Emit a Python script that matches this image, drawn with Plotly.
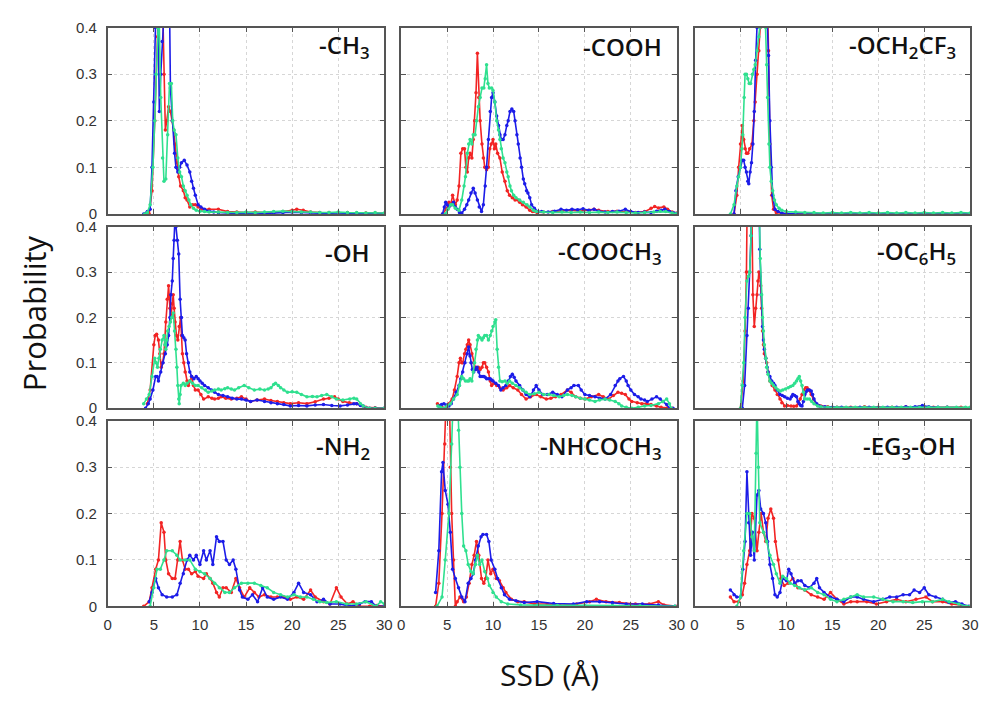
import plotly.graph_objects as go
from plotly.subplots import make_subplots

# ---------------- data (SSD in Å, probability) ----------------
# Panel 1: -CH3
ch3_red_x = [4.5, 4.8, 5.1, 5.4, 5.6, 5.9, 6.1, 6.25, 6.4, 6.6, 6.8, 7.0, 7.15, 7.3, 7.5, 7.7, 7.9, 8.2, 8.4, 8.6, 8.9, 9.2, 9.5, 9.8, 10.2, 11, 12, 13, 14, 15, 16, 17, 18, 19, 20, 20.5, 21.2, 22, 23, 24, 25, 26, 27, 28, 29, 30]
ch3_red_y = [0.0, 0.05, 0.2, 0.38, 0.5, 0.5, 0.3, 0.18, 0.2, 0.23, 0.22, 0.2, 0.18, 0.15, 0.11, 0.08, 0.06, 0.05, 0.035, 0.03, 0.015, 0.02, 0.02, 0.015, 0.01, 0.01, 0.01, 0.005, 0.004, 0.003, 0.004, 0.003, 0.004, 0.005, 0.008, 0.01, 0.008, 0.004, 0.003, 0.003, 0.002, 0.003, 0.002, 0.002, 0.002, 0.001]
ch3_blue_x = [3.9, 4.3, 4.6, 4.8, 5.0, 5.15, 5.3, 5.45, 5.6, 5.75, 5.9, 6.1, 6.3, 6.5, 6.7, 6.8, 7.0, 7.25, 7.4, 7.6, 7.8, 8.0, 8.3, 8.6, 8.9, 9.1, 9.3, 9.5, 9.8, 10.1, 10.5, 11, 11.5, 12, 13, 14, 15, 16, 17, 18, 19, 20, 21, 22, 23, 24, 25, 26, 27, 28, 29, 30]
ch3_blue_y = [0.0, 0.005, 0.01, 0.1, 0.24, 0.4, 0.5, 0.45, 0.22, 0.3, 0.37, 0.45, 0.5, 0.5, 0.45, 0.27, 0.2, 0.13, 0.1, 0.09, 0.1, 0.11, 0.115, 0.105, 0.09, 0.07, 0.055, 0.04, 0.02, 0.015, 0.01, 0.006, 0.004, 0.003, 0.002, 0.001, 0.002, 0.0, 0.001, 0.002, 0.003, 0.004, 0.003, 0.002, 0.002, 0.001, 0.0, 0.001, 0.001, 0.0, 0.001, 0.001]
ch3_green_x = [4.0, 4.3, 4.6, 4.9, 5.1, 5.25, 5.4, 5.55, 5.75, 5.95, 6.1, 6.3, 6.5, 6.7, 6.9, 7.05, 7.2, 7.4, 7.6, 7.8, 8.0, 8.2, 8.4, 8.6, 8.8, 9.0, 9.3, 9.6, 10, 10.5, 11, 12, 13, 14, 15, 16, 17, 18, 19, 20, 21, 22, 23, 24, 25, 26, 27, 28, 29, 30]
ch3_green_y = [0.0, 0.003, 0.02, 0.1, 0.2, 0.3, 0.4, 0.45, 0.25, 0.12, 0.07, 0.075, 0.17, 0.28, 0.28, 0.2, 0.18, 0.17, 0.12, 0.09, 0.08, 0.06, 0.05, 0.04, 0.03, 0.02, 0.012, 0.008, 0.006, 0.005, 0.004, 0.004, 0.003, 0.003, 0.004, 0.003, 0.004, 0.005, 0.006, 0.005, 0.004, 0.004, 0.003, 0.003, 0.004, 0.003, 0.003, 0.002, 0.003, 0.002]

# Panel 2: -COOH
cooh_red_x = [4.5, 4.9, 5.2, 5.4, 5.6, 5.9, 6.1, 6.3, 6.5, 6.7, 6.9, 7.05, 7.2, 7.35, 7.5, 7.7, 7.85, 8.0, 8.15, 8.3, 8.45, 8.6, 8.8, 8.95, 9.1, 9.3, 9.5, 9.65, 9.8, 10.0, 10.15, 10.3, 10.5, 10.75, 11.0, 11.3, 11.55, 11.8, 12.1, 12.4, 12.7, 12.9, 13.2, 13.6, 14.0, 14.3, 14.8, 15.5, 16.5, 17.5, 18.5, 19.5, 20.5, 21.0, 21.5, 22.5, 23.5, 24.5, 25.5, 26.5, 27.2, 27.6, 28.0, 28.6, 29.0, 29.5, 30]
cooh_red_y = [0.0, 0.01, 0.025, 0.02, 0.04, 0.02, 0.03, 0.06, 0.13, 0.14, 0.14, 0.1, 0.09, 0.12, 0.13, 0.12, 0.16, 0.2, 0.26, 0.345, 0.25, 0.2, 0.15, 0.12, 0.1, 0.095, 0.1, 0.14, 0.15, 0.16, 0.14, 0.15, 0.13, 0.12, 0.09, 0.07, 0.05, 0.04, 0.035, 0.03, 0.03, 0.025, 0.02, 0.015, 0.008, 0.005, 0.003, 0.004, 0.005, 0.006, 0.008, 0.006, 0.008, 0.01, 0.008, 0.005, 0.006, 0.004, 0.003, 0.005, 0.012, 0.016, 0.013, 0.015, 0.01, 0.004, 0.002]
cooh_blue_x = [4.5, 4.7, 4.85, 5.0, 5.2, 5.45, 5.7, 5.9, 6.1, 6.35, 6.6, 6.9, 7.15, 7.35, 7.6, 7.85, 8.05, 8.3, 8.5, 8.75, 8.95, 9.15, 9.3, 9.5, 9.7, 9.85, 10.0, 10.2, 10.4, 10.6, 10.75, 10.9, 11.1, 11.3, 11.5, 11.65, 11.85, 12.05, 12.25, 12.4, 12.6, 12.75, 12.95, 13.1, 13.3, 13.45, 13.65, 13.8, 14.0, 14.2, 14.5, 14.9, 15.3, 16, 16.7, 17.4, 18, 18.6, 19.2, 19.8, 20.4, 21, 21.5, 22.2, 23, 23.7, 24.4, 25, 25.8, 26.5, 27.2, 27.8, 28.3, 28.7, 29.2, 29.7, 30]
cooh_blue_y = [0.0, 0.015, 0.025, 0.02, 0.015, 0.02, 0.025, 0.015, 0.01, 0.003, 0.002, 0.01, 0.02, 0.03, 0.045, 0.055, 0.045, 0.03, 0.015, 0.005, 0.02, 0.06, 0.1, 0.16, 0.22, 0.25, 0.26, 0.24, 0.21, 0.19, 0.17, 0.16, 0.16, 0.17, 0.19, 0.2, 0.22, 0.225, 0.22, 0.2, 0.17, 0.15, 0.12, 0.1, 0.075, 0.065, 0.05, 0.045, 0.035, 0.02, 0.012, 0.005, 0.005, 0.004, 0.006, 0.01, 0.008, 0.01, 0.009, 0.011, 0.008, 0.01, 0.006, 0.004, 0.005, 0.006, 0.01, 0.005, 0.003, 0.004, 0.003, 0.006, 0.008, 0.01, 0.005, 0.002, 0.001]
cooh_green_x = [4.8, 5.1, 5.4, 5.6, 5.9, 6.3, 6.6, 6.85, 7.0, 7.2, 7.35, 7.5, 7.7, 7.85, 8.05, 8.2, 8.4, 8.6, 8.8, 9.0, 9.15, 9.3, 9.45, 9.6, 9.85, 10.0, 10.2, 10.4, 10.6, 10.75, 10.9, 11.1, 11.3, 11.5, 11.65, 11.85, 12.0, 12.25, 12.5, 12.9, 13.3, 13.7, 14.0, 14.4, 14.7, 15.5, 16.5, 17.5, 18.5, 19.5, 20.5, 21.5, 22.5, 23.5, 24.5, 25.5, 26.5, 27.5, 28.2, 28.8, 29.5, 30]
cooh_green_y = [0.0, 0.01, 0.02, 0.02, 0.012, 0.008, 0.03, 0.06, 0.08, 0.13, 0.15, 0.16, 0.15, 0.17, 0.17, 0.2, 0.23, 0.25, 0.27, 0.27, 0.29, 0.32, 0.28, 0.27, 0.27, 0.265, 0.24, 0.2, 0.18, 0.16, 0.14, 0.12, 0.11, 0.09, 0.08, 0.06, 0.05, 0.04, 0.035, 0.03, 0.025, 0.02, 0.015, 0.008, 0.005, 0.004, 0.003, 0.004, 0.003, 0.004, 0.003, 0.004, 0.003, 0.004, 0.003, 0.002, 0.003, 0.004, 0.006, 0.005, 0.002, 0.001]

# Panel 3: -OCH2CF3
och2cf3_red_x = [4.3, 4.6, 4.8, 5.0, 5.2, 5.35, 5.5, 5.65, 5.8, 6.0, 6.25, 6.45, 6.6, 6.8, 7.0, 7.15, 7.3, 7.6, 7.9, 8.05, 8.2, 8.4, 8.6, 8.9, 9.5, 10, 12, 15, 20, 25, 30]
och2cf3_red_y = [0.0, 0.04, 0.1, 0.15, 0.19, 0.16, 0.14, 0.13, 0.13, 0.14, 0.15, 0.2, 0.24, 0.3, 0.35, 0.4, 0.5, 0.5, 0.5, 0.35, 0.15, 0.04, 0.01, 0.003, 0.001, 0.0, 0.0, 0.0, 0.0, 0.0, 0.0]
och2cf3_blue_x = [4.3, 4.5, 4.75, 5.0, 5.2, 5.35, 5.5, 5.65, 5.8, 5.9, 6.05, 6.2, 6.35, 6.5, 6.65, 6.8, 7.0, 7.4, 7.75, 7.9, 8.05, 8.2, 8.35, 8.5, 8.75, 9.1, 9.5, 10, 11, 15, 20, 25, 30]
och2cf3_blue_y = [0.0, 0.05, 0.08, 0.1, 0.115, 0.115, 0.1, 0.09, 0.07, 0.065, 0.09, 0.11, 0.15, 0.22, 0.33, 0.4, 0.5, 0.5, 0.5, 0.42, 0.34, 0.2, 0.1, 0.04, 0.01, 0.005, 0.002, 0.001, 0.0, 0.0, 0.0, 0.0, 0.0]
och2cf3_green_x = [3.9, 4.3, 4.6, 4.8, 5.0, 5.15, 5.25, 5.4, 5.5, 5.65, 5.8, 5.95, 6.1, 6.3, 6.45, 6.6, 6.8, 7.0, 7.1, 7.3, 7.5, 7.65, 7.75, 7.85, 7.95, 8.1, 8.2, 8.35, 8.5, 8.7, 8.9, 9.2, 9.5, 10, 11, 12, 13, 14, 15, 16, 17, 18, 19, 20, 21, 22, 23, 24, 25, 26, 27, 28, 29, 30]
och2cf3_green_y = [0.0, 0.02, 0.06, 0.08, 0.1, 0.14, 0.17, 0.25, 0.3, 0.3, 0.29, 0.28, 0.28, 0.3, 0.31, 0.32, 0.35, 0.38, 0.4, 0.5, 0.5, 0.45, 0.4, 0.32, 0.25, 0.15, 0.1, 0.07, 0.05, 0.03, 0.02, 0.012, 0.008, 0.005, 0.004, 0.003, 0.003, 0.002, 0.003, 0.002, 0.003, 0.002, 0.003, 0.002, 0.003, 0.002, 0.003, 0.002, 0.003, 0.002, 0.003, 0.002, 0.003, 0.002]

# Panel 4: -OH
oh_red_x = [4.3, 4.6, 5.0, 5.15, 5.3, 5.5, 5.65, 5.8, 5.95, 6.1, 6.3, 6.45, 6.6, 6.75, 6.85, 7.0, 7.1, 7.2, 7.3, 7.45, 7.6, 7.75, 7.9, 8.0, 8.1, 8.25, 8.4, 8.6, 8.75, 8.9, 9.1, 9.3, 9.5, 9.8, 10.1, 10.4, 10.9, 11.3, 11.6, 12.0, 12.3, 12.8, 13.4, 14.0, 14.5, 15.0, 15.5, 16.2, 17.0, 17.7, 18.4, 19.1, 19.8, 20.7, 21.6, 22.5, 23.4, 24.0, 24.6, 25.0, 25.5, 26.2, 27.0, 27.5, 28.0, 29, 30]
oh_red_y = [0.01, 0.04, 0.14, 0.16, 0.163, 0.15, 0.12, 0.09, 0.1, 0.12, 0.19, 0.24, 0.27, 0.22, 0.2, 0.23, 0.25, 0.22, 0.19, 0.16, 0.15, 0.18, 0.2, 0.16, 0.12, 0.1, 0.08, 0.06, 0.05, 0.06, 0.07, 0.05, 0.04, 0.04, 0.03, 0.02, 0.025, 0.022, 0.02, 0.022, 0.025, 0.022, 0.02, 0.022, 0.025, 0.02, 0.015, 0.018, 0.02, 0.017, 0.015, 0.012, 0.01, 0.012, 0.01, 0.014, 0.02, 0.022, 0.025, 0.02, 0.015, 0.012, 0.01, 0.006, 0.002, 0.001, 0.0]
oh_blue_x = [4.1, 4.4, 4.6, 4.9, 5.2, 5.35, 5.5, 5.75, 6.0, 6.25, 6.45, 6.6, 6.75, 6.85, 7.0, 7.1, 7.2, 7.3, 7.4, 7.55, 7.7, 7.85, 8.0, 8.1, 8.25, 8.4, 8.55, 8.75, 8.9, 9.1, 9.35, 9.6, 9.8, 10.0, 10.25, 10.5, 10.9, 11.25, 11.6, 12.0, 12.5, 13.0, 13.5, 14.0, 14.5, 15.0, 15.5, 16.2, 17.0, 17.7, 18.4, 19.1, 19.8, 20.7, 21.6, 22.5, 23.4, 24.3, 25.2, 26.0, 26.7, 27.0, 27.4, 27.7, 28.4, 29, 30]
oh_blue_y = [0.0, 0.01, 0.02, 0.04, 0.07, 0.07, 0.06, 0.08, 0.1, 0.12, 0.14, 0.16, 0.2, 0.25, 0.28, 0.33, 0.37, 0.42, 0.4, 0.37, 0.34, 0.24, 0.2, 0.16, 0.155, 0.15, 0.12, 0.1, 0.08, 0.07, 0.065, 0.07, 0.065, 0.06, 0.055, 0.05, 0.045, 0.04, 0.035, 0.03, 0.028, 0.025, 0.022, 0.02, 0.02, 0.018, 0.015, 0.018, 0.015, 0.012, 0.01, 0.008, 0.005, 0.006, 0.005, 0.007, 0.008, 0.006, 0.005, 0.007, 0.01, 0.01, 0.006, 0.005, 0.0, 0.0, 0.0]
oh_green_x = [3.9, 4.2, 4.5, 4.8, 5.1, 5.25, 5.4, 5.55, 5.7, 5.9, 6.1, 6.2, 6.3, 6.4, 6.5, 6.65, 6.8, 6.95, 7.1, 7.25, 7.4, 7.5, 7.6, 7.7, 7.75, 7.85, 7.95, 8.2, 8.4, 8.6, 8.9, 9.2, 9.5, 9.8, 10.2, 10.6, 10.9, 11.3, 11.6, 12.0, 12.3, 12.7, 13.0, 13.4, 13.75, 14.2, 14.8, 15.3, 15.9, 16.5, 17.0, 17.4, 17.7, 18.0, 18.2, 18.5, 18.75, 19.1, 19.5, 20.0, 20.5, 21.0, 21.6, 22.2, 22.7, 23.2, 23.75, 24.3, 24.8, 25.5, 26.25, 26.7, 27.0, 27.4, 27.7, 28.4, 29, 30]
oh_green_y = [0.01, 0.02, 0.03, 0.07, 0.11, 0.1, 0.09, 0.11, 0.13, 0.15, 0.16, 0.14, 0.13, 0.15, 0.17, 0.18, 0.19, 0.2, 0.21, 0.17, 0.13, 0.09, 0.05, 0.02, 0.01, 0.03, 0.05, 0.055, 0.05, 0.055, 0.06, 0.055, 0.05, 0.05, 0.045, 0.04, 0.035, 0.038, 0.04, 0.042, 0.04, 0.043, 0.045, 0.042, 0.04, 0.045, 0.05, 0.045, 0.04, 0.042, 0.04, 0.042, 0.045, 0.052, 0.055, 0.05, 0.045, 0.04, 0.035, 0.036, 0.035, 0.03, 0.025, 0.026, 0.025, 0.028, 0.03, 0.025, 0.02, 0.018, 0.02, 0.022, 0.02, 0.01, 0.005, 0.0, 0.0, 0.0]

# Panel 5: -COOCH3
cooch3_red_x = [3.95, 4.3, 4.8, 5.2, 5.55, 5.8, 6.1, 6.3, 6.45, 6.6, 6.7, 6.9, 7.05, 7.2, 7.35, 7.5, 7.7, 7.9, 8.05, 8.25, 8.4, 8.6, 8.8, 8.95, 9.1, 9.3, 9.5, 9.7, 9.85, 10.1, 10.4, 10.75, 11.1, 11.5, 11.8, 12.2, 12.7, 13.1, 13.6, 14.1, 14.7, 15.2, 15.8, 16.3, 16.8, 17.4, 18.1, 18.5, 19.0, 19.5, 20.0, 20.7, 21.5, 22.0, 22.6, 23.1, 23.6, 24.0, 24.4, 24.8, 25.1, 25.7, 26.2, 26.7, 27.2, 27.8, 28.3, 29, 29.5]
cooch3_red_y = [0.01, 0.005, 0.0, 0.01, 0.02, 0.04, 0.07, 0.1, 0.11, 0.1, 0.1, 0.12, 0.13, 0.14, 0.15, 0.14, 0.12, 0.1, 0.09, 0.085, 0.09, 0.085, 0.09, 0.1, 0.1, 0.09, 0.08, 0.06, 0.05, 0.055, 0.05, 0.045, 0.04, 0.045, 0.05, 0.045, 0.04, 0.03, 0.02, 0.025, 0.03, 0.025, 0.02, 0.022, 0.025, 0.03, 0.04, 0.035, 0.025, 0.022, 0.02, 0.025, 0.03, 0.025, 0.02, 0.028, 0.035, 0.033, 0.03, 0.02, 0.015, 0.012, 0.01, 0.01, 0.008, 0.005, 0.002, 0.001, 0.0]
cooch3_blue_x = [4.1, 4.4, 4.65, 4.9, 5.2, 5.45, 5.7, 6.0, 6.3, 6.5, 6.7, 6.95, 7.2, 7.35, 7.5, 7.6, 7.75, 7.9, 8.1, 8.25, 8.45, 8.6, 8.8, 9.0, 9.15, 9.3, 9.5, 9.7, 9.85, 10.0, 10.3, 10.6, 10.85, 11.1, 11.4, 11.65, 11.9, 12.1, 12.3, 12.5, 12.9, 13.25, 13.6, 14.0, 14.4, 14.7, 15.0, 15.4, 15.9, 16.5, 17.0, 17.5, 18.1, 18.5, 18.8, 19.3, 19.6, 20.0, 20.5, 21.1, 21.6, 22.2, 22.8, 23.3, 23.6, 23.8, 24.2, 24.5, 24.7, 25.0, 25.4, 25.8, 26.1, 26.5, 26.8, 27.3, 27.8, 28.2, 28.5, 28.9, 29.2, 29.6]
cooch3_blue_y = [0.005, 0.008, 0.01, 0.007, 0.005, 0.01, 0.02, 0.035, 0.05, 0.065, 0.08, 0.1, 0.12, 0.135, 0.115, 0.1, 0.085, 0.08, 0.085, 0.09, 0.08, 0.07, 0.07, 0.07, 0.068, 0.065, 0.065, 0.065, 0.062, 0.06, 0.055, 0.05, 0.04, 0.045, 0.05, 0.06, 0.07, 0.075, 0.068, 0.06, 0.05, 0.04, 0.03, 0.025, 0.04, 0.05, 0.04, 0.03, 0.03, 0.035, 0.03, 0.025, 0.04, 0.045, 0.05, 0.05, 0.04, 0.03, 0.028, 0.025, 0.022, 0.02, 0.03, 0.05, 0.06, 0.065, 0.07, 0.06, 0.05, 0.04, 0.03, 0.025, 0.02, 0.018, 0.015, 0.02, 0.025, 0.02, 0.015, 0.008, 0.0, 0.0]
cooch3_green_x = [4.0, 4.3, 4.65, 5.0, 5.35, 5.7, 6.1, 6.35, 6.6, 6.8, 7.0, 7.2, 7.35, 7.5, 7.7, 7.85, 8.0, 8.15, 8.3, 8.4, 8.6, 8.8, 8.95, 9.1, 9.3, 9.5, 9.7, 9.85, 10.0, 10.2, 10.3, 10.45, 10.6, 10.75, 11.0, 11.3, 11.55, 11.8, 12.1, 12.5, 12.9, 13.25, 13.6, 14.0, 14.5, 15.0, 15.5, 16.1, 16.6, 17.2, 17.7, 18.1, 18.6, 19.0, 19.5, 20.0, 20.5, 21.1, 21.6, 22.2, 22.7, 23.3, 23.7, 24.0, 24.5, 25.1, 25.8, 26.5, 27.2, 28.0, 28.5, 28.9, 29.2, 29.4]
cooch3_green_y = [0.005, 0.002, 0.0, 0.005, 0.01, 0.02, 0.03, 0.05, 0.07, 0.065, 0.06, 0.06, 0.06, 0.065, 0.06, 0.08, 0.1, 0.13, 0.15, 0.16, 0.155, 0.15, 0.155, 0.16, 0.16, 0.15, 0.16, 0.17, 0.18, 0.19, 0.195, 0.13, 0.09, 0.06, 0.058, 0.06, 0.055, 0.06, 0.055, 0.05, 0.045, 0.04, 0.035, 0.03, 0.032, 0.035, 0.03, 0.03, 0.028, 0.025, 0.028, 0.03, 0.028, 0.025, 0.022, 0.02, 0.018, 0.015, 0.018, 0.02, 0.018, 0.015, 0.01, 0.005, 0.002, 0.0, 0.002, 0.005, 0.006, 0.01, 0.015, 0.02, 0.01, 0.0]

# Panel 6: -OC6H5
oc6h5_red_x = [5.0, 5.3, 5.5, 5.65, 5.75, 6.0, 6.15, 6.25, 6.35, 6.5, 6.65, 6.8, 6.9, 7.0, 7.1, 7.2, 7.3, 7.4, 7.5, 7.6, 7.75, 7.85, 8.0, 8.2, 8.45, 8.75, 9.0, 9.3, 9.5, 9.8, 10.1, 10.5, 10.8, 11.1, 11.3, 11.5, 11.7, 11.9, 12.1, 12.25, 12.45, 12.7, 12.95, 13.2, 13.5, 13.75, 14.5, 15.5, 17, 18.5, 20, 21.5, 23, 24.5, 26, 27.5, 29, 30]
oc6h5_red_y = [0.0, 0.06, 0.17, 0.3, 0.5, 0.5, 0.5, 0.42, 0.25, 0.18, 0.22, 0.25, 0.28, 0.3, 0.29, 0.27, 0.22, 0.17, 0.14, 0.12, 0.11, 0.1, 0.08, 0.06, 0.05, 0.04, 0.03, 0.02, 0.012, 0.005, 0.006, 0.005, 0.004, 0.005, 0.012, 0.02, 0.03, 0.04, 0.045, 0.045, 0.04, 0.03, 0.02, 0.01, 0.006, 0.005, 0.003, 0.002, 0.002, 0.003, 0.002, 0.002, 0.003, 0.003, 0.002, 0.002, 0.002, 0.001]
oc6h5_blue_x = [5.2, 5.45, 5.7, 5.85, 6.0, 6.15, 6.25, 6.6, 7.0, 7.1, 7.25, 7.4, 7.5, 7.6, 7.75, 7.9, 8.0, 8.2, 8.4, 8.6, 8.75, 9.0, 9.3, 9.55, 9.8, 10.1, 10.4, 10.55, 10.7, 10.9, 11.1, 11.25, 11.4, 11.55, 11.7, 11.85, 12.0, 12.15, 12.3, 12.5, 12.7, 12.85, 13.0, 13.3, 13.6, 14.2, 15, 16, 17, 18, 19, 20, 21, 22, 23, 24, 24.8, 25.5, 26.5, 27.5, 28.5, 29.5, 30]
oc6h5_blue_y = [0.0, 0.05, 0.16, 0.22, 0.3, 0.38, 0.5, 0.5, 0.5, 0.35, 0.25, 0.18, 0.15, 0.13, 0.11, 0.09, 0.08, 0.07, 0.06, 0.055, 0.05, 0.04, 0.03, 0.028, 0.025, 0.022, 0.02, 0.025, 0.03, 0.028, 0.025, 0.015, 0.01, 0.006, 0.005, 0.015, 0.03, 0.036, 0.04, 0.04, 0.038, 0.03, 0.02, 0.01, 0.005, 0.003, 0.002, 0.002, 0.001, 0.002, 0.002, 0.001, 0.002, 0.002, 0.003, 0.003, 0.006, 0.003, 0.002, 0.002, 0.001, 0.001, 0.001]
oc6h5_green_x = [5.0, 5.2, 5.35, 5.5, 5.7, 5.85, 6.0, 6.15, 6.25, 6.6, 7.0, 7.15, 7.3, 7.4, 7.5, 7.6, 7.75, 7.85, 8.0, 8.2, 8.4, 8.6, 8.85, 9.1, 9.35, 9.6, 9.9, 10.2, 10.45, 10.7, 10.9, 11.1, 11.25, 11.4, 11.55, 11.7, 11.85, 12.0, 12.25, 12.5, 12.75, 13.0, 13.4, 13.75, 14.5, 15.5, 16.5, 17.5, 18.5, 19.5, 20.5, 21.5, 22.5, 23.5, 24.5, 25.5, 26.5, 27.5, 28.5, 29.5, 30]
oc6h5_green_y = [0.0, 0.05, 0.1, 0.2, 0.28, 0.29, 0.3, 0.38, 0.5, 0.5, 0.5, 0.33, 0.25, 0.2, 0.17, 0.14, 0.11, 0.09, 0.075, 0.06, 0.055, 0.05, 0.045, 0.04, 0.038, 0.04, 0.042, 0.045, 0.048, 0.05, 0.055, 0.06, 0.065, 0.07, 0.06, 0.05, 0.035, 0.02, 0.02, 0.02, 0.015, 0.01, 0.005, 0.003, 0.002, 0.002, 0.002, 0.002, 0.002, 0.002, 0.002, 0.002, 0.002, 0.002, 0.002, 0.002, 0.002, 0.002, 0.002, 0.002, 0.002]

# Panel 7: -NH2
nh2_red_x = [3.9, 4.5, 4.8, 5.2, 5.5, 5.8, 6.1, 6.3, 6.6, 7.0, 7.3, 7.6, 7.85, 8.1, 8.4, 8.75, 9.1, 9.5, 9.8, 10.4, 10.7, 11.1, 11.4, 11.8, 12.1, 12.5, 12.85, 13.4, 13.9, 14.3, 14.8, 15.4, 15.9, 16.4, 17.0, 17.7, 18.4, 19.1, 19.8, 20.5, 21.25, 22.0, 22.5, 23.4, 24.1, 24.8, 25.3, 26.0, 26.6, 27.3, 28.4, 29.2, 30]
nh2_red_y = [0.0, 0.01, 0.04, 0.08, 0.1, 0.18, 0.16, 0.1, 0.07, 0.06, 0.06, 0.1, 0.14, 0.1, 0.08, 0.08, 0.07, 0.075, 0.065, 0.06, 0.07, 0.06, 0.05, 0.03, 0.02, 0.04, 0.04, 0.03, 0.06, 0.04, 0.02, 0.04, 0.03, 0.02, 0.025, 0.02, 0.02, 0.02, 0.015, 0.02, 0.015, 0.035, 0.02, 0.01, 0.005, 0.04, 0.02, 0.005, 0.01, 0.0, 0.0, 0.002, 0.0]
nh2_blue_x = [4.5, 4.8, 5.2, 5.5, 5.9, 6.4, 7.0, 7.5, 7.85, 8.2, 8.6, 8.9, 9.3, 9.6, 10.0, 10.4, 10.7, 11.1, 11.4, 11.8, 12.1, 12.5, 12.85, 13.2, 13.6, 13.9, 14.3, 14.6, 15.2, 15.7, 16.25, 16.8, 17.3, 18.0, 18.75, 19.5, 20.2, 20.7, 21.25, 22.0, 22.7, 23.4, 24.1, 25.2, 26.25, 27.3, 27.9, 28.6, 29.1, 30]
nh2_blue_y = [0.01, 0.03, 0.06, 0.04, 0.025, 0.02, 0.02, 0.025, 0.05, 0.07, 0.1, 0.11, 0.1, 0.11, 0.09, 0.12, 0.1, 0.12, 0.09, 0.15, 0.14, 0.14, 0.1, 0.09, 0.1, 0.08, 0.035, 0.02, 0.015, 0.025, 0.01, 0.04, 0.02, 0.015, 0.02, 0.015, 0.03, 0.05, 0.03, 0.025, 0.01, 0.015, 0.005, 0.005, 0.0, 0.005, 0.01, 0.01, 0.0, 0.0]
nh2_green_x = [4.6, 5.0, 5.35, 5.7, 6.1, 6.4, 7.0, 7.5, 7.85, 8.4, 8.9, 9.5, 10.0, 10.5, 11.1, 11.6, 12.1, 12.7, 13.2, 13.75, 14.5, 15.2, 15.9, 16.6, 17.3, 18.0, 18.75, 19.5, 20.2, 20.9, 21.6, 22.3, 23.0, 23.75, 24.8, 25.9, 27.0, 28.0, 29.1, 29.6, 30]
nh2_green_y = [0.0, 0.04, 0.08, 0.08, 0.1, 0.12, 0.12, 0.11, 0.1, 0.1, 0.1, 0.08, 0.075, 0.07, 0.06, 0.05, 0.04, 0.03, 0.03, 0.04, 0.05, 0.05, 0.05, 0.045, 0.04, 0.03, 0.025, 0.02, 0.025, 0.02, 0.02, 0.015, 0.01, 0.008, 0.01, 0.005, 0.005, 0.01, 0.0, 0.01, 0.005]

# Panel 8: -NHCOCH3
nhcoch3_red_x = [3.75, 4.1, 4.45, 4.75, 5.0, 5.2, 5.35, 5.5, 5.7, 5.9, 6.1, 6.4, 6.8, 7.1, 7.4, 7.7, 7.95, 8.2, 8.45, 8.75, 9.0, 9.2, 9.45, 9.75, 10.0, 10.35, 10.7, 11.1, 11.4, 12.0, 12.7, 13.4, 14.5, 15.9, 17.3, 19.1, 20.5, 21.25, 22.3, 23.75, 25.5, 27.0, 28.0, 28.6, 30]
nhcoch3_red_y = [0.0, 0.05, 0.2, 0.35, 0.5, 0.5, 0.3, 0.2, 0.1, 0.0, 0.01, 0.02, 0.01, 0.02, 0.05, 0.09, 0.11, 0.14, 0.11, 0.06, 0.05, 0.06, 0.1, 0.07, 0.08, 0.06, 0.055, 0.04, 0.03, 0.015, 0.01, 0.01, 0.005, 0.005, 0.002, 0.005, 0.01, 0.015, 0.01, 0.008, 0.005, 0.005, 0.01, 0.003, 0.0]
nhcoch3_blue_x = [3.75, 4.1, 4.4, 4.55, 4.8, 5.1, 5.35, 5.6, 5.9, 6.25, 6.6, 6.95, 7.3, 7.6, 7.85, 8.1, 8.4, 8.7, 8.9, 9.3, 9.55, 9.8, 10.2, 10.5, 10.9, 11.25, 11.8, 12.5, 13.4, 14.8, 16.6, 18.75, 20.2, 21.6, 23.0, 24.5, 26.25, 28.0, 29.8]
nhcoch3_blue_y = [0.03, 0.12, 0.29, 0.31, 0.25, 0.22, 0.16, 0.08, 0.06, 0.04, 0.02, 0.01, 0.05, 0.06, 0.07, 0.1, 0.13, 0.15, 0.155, 0.155, 0.14, 0.1, 0.08, 0.06, 0.04, 0.025, 0.015, 0.012, 0.008, 0.01, 0.006, 0.005, 0.01, 0.01, 0.008, 0.005, 0.005, 0.003, 0.0]
nhcoch3_green_x = [3.9, 4.45, 4.8, 5.2, 5.5, 5.75, 6.05, 6.25, 6.4, 6.6, 6.8, 7.05, 7.3, 7.6, 7.85, 8.1, 8.3, 8.55, 8.8, 9.1, 9.4, 9.6, 10.0, 10.35, 10.9, 11.6, 13.0, 14.8, 17, 20, 23, 26, 29.8]
nhcoch3_green_y = [0.0, 0.02, 0.1, 0.2, 0.35, 0.5, 0.5, 0.38, 0.3, 0.2, 0.13, 0.12, 0.09, 0.075, 0.07, 0.09, 0.11, 0.09, 0.1, 0.075, 0.06, 0.045, 0.03, 0.02, 0.01, 0.005, 0.003, 0.002, 0.002, 0.002, 0.002, 0.001, 0.0]

# Panel 9: -EG3-OH
eg3oh_red_x = [3.9, 4.3, 4.8, 5.2, 5.45, 5.7, 6.0, 6.25, 6.5, 6.8, 7.0, 7.25, 7.5, 7.75, 8.0, 8.3, 8.6, 8.8, 9.1, 9.4, 9.75, 10.2, 10.7, 11.25, 12.0, 12.7, 13.4, 14.1, 14.8, 15.5, 16.25, 17.0, 17.7, 18.75, 19.8, 20.9, 22.0, 23.0, 24.1, 25.2, 25.9, 27.0, 28.0, 29.1, 30]
eg3oh_red_y = [0.02, 0.01, 0.01, 0.025, 0.05, 0.09, 0.12, 0.2, 0.19, 0.12, 0.16, 0.2, 0.16, 0.14, 0.19, 0.21, 0.19, 0.14, 0.1, 0.06, 0.045, 0.05, 0.06, 0.04, 0.035, 0.025, 0.02, 0.015, 0.03, 0.015, 0.005, 0.01, 0.01, 0.01, 0.005, 0.01, 0.015, 0.01, 0.015, 0.02, 0.01, 0.01, 0.005, 0.003, 0.0]
eg3oh_blue_x = [3.9, 4.3, 4.6, 5.0, 5.25, 5.5, 5.7, 5.9, 6.1, 6.3, 6.5, 6.8, 7.0, 7.2, 7.5, 7.75, 7.95, 8.2, 8.5, 8.75, 9.0, 9.3, 9.6, 10.0, 10.25, 10.5, 10.9, 11.25, 11.6, 12.0, 12.5, 13.0, 13.3, 13.6, 14.1, 14.8, 15.5, 16.25, 17.0, 17.7, 18.4, 19.5, 20.5, 21.25, 22.0, 22.7, 23.4, 23.9, 24.5, 25.0, 25.5, 26.25, 27.0, 27.7, 28.4, 29.1, 29.8]
eg3oh_blue_y = [0.035, 0.025, 0.02, 0.02, 0.08, 0.14, 0.29, 0.18, 0.11, 0.16, 0.1, 0.24, 0.25, 0.21, 0.2, 0.18, 0.14, 0.09, 0.06, 0.025, 0.02, 0.03, 0.06, 0.055, 0.08, 0.07, 0.05, 0.055, 0.055, 0.045, 0.04, 0.05, 0.06, 0.04, 0.03, 0.02, 0.015, 0.01, 0.02, 0.02, 0.015, 0.01, 0.015, 0.02, 0.02, 0.025, 0.025, 0.035, 0.03, 0.04, 0.025, 0.02, 0.015, 0.008, 0.01, 0.005, 0.0]
eg3oh_green_x = [4.6, 5.0, 5.35, 5.7, 6.0, 6.25, 6.5, 6.7, 6.8, 6.95, 7.1, 7.5, 7.85, 8.2, 8.6, 8.9, 9.3, 9.6, 10.0, 10.4, 10.9, 11.4, 12.0, 12.7, 13.4, 14.1, 14.8, 15.5, 16.25, 17.0, 17.7, 18.4, 19.5, 20.5, 21.6, 22.7, 23.75, 24.8, 25.9, 27.0, 27.7, 28.75, 29.6, 30]
eg3oh_green_y = [0.0, 0.02, 0.12, 0.2, 0.2, 0.15, 0.12, 0.33, 0.45, 0.3, 0.18, 0.16, 0.14, 0.11, 0.09, 0.07, 0.05, 0.065, 0.06, 0.05, 0.045, 0.04, 0.035, 0.04, 0.03, 0.025, 0.015, 0.01, 0.015, 0.02, 0.025, 0.02, 0.02, 0.015, 0.01, 0.01, 0.008, 0.01, 0.01, 0.015, 0.01, 0.005, 0.0, 0.0]

panel_labels = ["-CH<sub>3</sub>", "-COOH", "-OCH<sub>2</sub>CF<sub>3</sub>",
                "-OH", "-COOCH<sub>3</sub>", "-OC<sub>6</sub>H<sub>5</sub>",
                "-NH<sub>2</sub>", "-NHCOCH<sub>3</sub>", "-EG<sub>3</sub>-OH"]
x_ticks = [0, 5, 10, 15, 20, 25, 30]
y_ticks = [0, 0.1, 0.2, 0.3, 0.4]
x_title = "SSD (Å)"
y_title = "Probability"

panels = [
    (ch3_red_x, ch3_red_y, ch3_blue_x, ch3_blue_y, ch3_green_x, ch3_green_y),
    (cooh_red_x, cooh_red_y, cooh_blue_x, cooh_blue_y, cooh_green_x, cooh_green_y),
    (och2cf3_red_x, och2cf3_red_y, och2cf3_blue_x, och2cf3_blue_y, och2cf3_green_x, och2cf3_green_y),
    (oh_red_x, oh_red_y, oh_blue_x, oh_blue_y, oh_green_x, oh_green_y),
    (cooch3_red_x, cooch3_red_y, cooch3_blue_x, cooch3_blue_y, cooch3_green_x, cooch3_green_y),
    (oc6h5_red_x, oc6h5_red_y, oc6h5_blue_x, oc6h5_blue_y, oc6h5_green_x, oc6h5_green_y),
    (nh2_red_x, nh2_red_y, nh2_blue_x, nh2_blue_y, nh2_green_x, nh2_green_y),
    (nhcoch3_red_x, nhcoch3_red_y, nhcoch3_blue_x, nhcoch3_blue_y, nhcoch3_green_x, nhcoch3_green_y),
    (eg3oh_red_x, eg3oh_red_y, eg3oh_blue_x, eg3oh_blue_y, eg3oh_green_x, eg3oh_green_y),
]

# ---------------- figure ----------------
W, H = 992, 708
RED, BLUE, GREEN = "#f22424", "#1c1ce8", "#2fe08f"

fig = make_subplots(rows=3, cols=3)

col_px = [(105, 385), (402, 681), (699, 978)]
row_px = [(19, 210), (223, 409), (422, 612)]
label_y = [0.9, 0.86, 0.86]

for i, p in enumerate(panels):
    r, c = i // 3 + 1, i % 3 + 1
    rx, ry, bx, by, gx, gy = p
    for xs, ys in ((rx, ry), (bx, by), (gx, gy)):
        assert len(xs) == len(ys), (i, len(xs), len(ys))
    for xs, ys, col in ((rx, ry, RED), (bx, by, BLUE), (gx, gy, GREEN)):
        fig.add_trace(go.Scatter(x=xs, y=ys, mode="lines+markers",
                                 line=dict(color=col, width=1.6),
                                 marker=dict(color=col, size=3.5),
                                 showlegend=False, hoverinfo="skip"),
                      row=r, col=c)
    x0, x1 = col_px[c - 1]
    y0, y1 = row_px[r - 1]
    fig.update_xaxes(domain=[x0 / W, x1 / W], row=r, col=c)
    fig.update_yaxes(domain=[1 - y1 / H, 1 - y0 / H], row=r, col=c)
    # panel label
    k = "" if i == 0 else str(i + 1)
    fig.add_annotation(text=panel_labels[i], xref=f"x{k} domain", yref=f"y{k} domain",
                       x=0.955, y=label_y[r - 1], xanchor="right", yanchor="middle",
                       showarrow=False,
                       font=dict(family="Open Sans", size=24, color="#111", weight=600))

axis_common = dict(showline=True, linecolor="#555", linewidth=1.5, mirror="ticks",
                   ticks="inside", ticklen=5, tickcolor="#555", tickwidth=1,
                   showgrid=True, gridcolor="#d6d6d6", griddash="dot", gridwidth=1,
                   zeroline=False,
                   tickfont=dict(family="Liberation Sans", size=15, color="#333"))

fig.update_xaxes(range=[0, 30], tickvals=x_ticks, showticklabels=False, **axis_common)
fig.update_yaxes(range=[0, 0.4], tickvals=y_ticks, showticklabels=False, **axis_common)
for c in (1, 2, 3):
    fig.update_xaxes(showticklabels=True, ticklabelstandoff=4, row=3, col=c)
for r in (1, 2, 3):
    fig.update_yaxes(showticklabels=True, ticklabelstandoff=6, row=r, col=1)

fig.add_annotation(text=y_title, xref="paper", yref="paper", x=30 / W, y=1 - 312 / H,
                   textangle=-90, showarrow=False, xanchor="center", yanchor="middle",
                   font=dict(family="Open Sans", size=31, color="#111"))
fig.add_annotation(text=x_title, xref="paper", yref="paper", x=552 / W, y=1 - 682 / H,
                   showarrow=False, xanchor="center", yanchor="middle",
                   font=dict(family="Open Sans", size=30, color="#111"))

fig.update_layout(width=W, height=H, margin=dict(l=0, r=0, t=0, b=0),
                  paper_bgcolor="white", plot_bgcolor="white")

fig.write_html("out.html")
